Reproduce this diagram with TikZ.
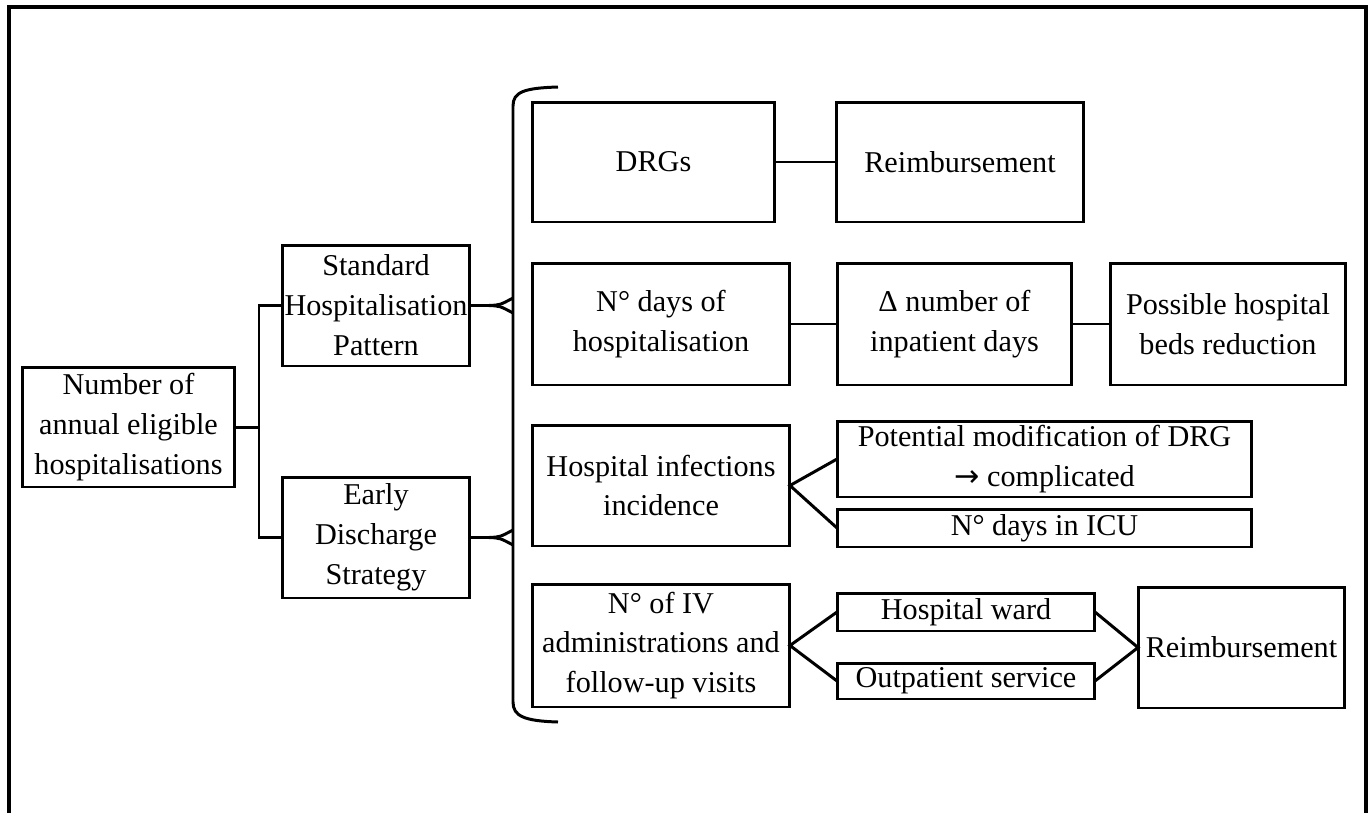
\documentclass[tikz,border=0pt]{standalone}
\usepackage{fontspec}
\setmainfont{Liberation Serif}
\newfontfamily\arrowfont{DejaVu Sans}
\usepackage{tikz}
\usetikzlibrary{calc}

\begin{document}
\begin{tikzpicture}[x=0.02cm, y=-0.02cm,
  blk/.style={draw, line width=1.7pt, align=center, inner sep=0pt, outer sep=0pt,
    font=\fontsize{17.2}{22.7}\selectfont},
  link/.style={line width=1.7pt}]
\useasboundingbox (0,0) rectangle (1370,812);
\draw[line width=1.8pt] (9,830)--(9,7)--(1366,7)--(1366,830);

\node[blk, minimum width=4.26cm, minimum height=2.4cm] (root) at (128.5,427)
  {Number of\\annual eligible\\hospitalisations};
\node[blk, minimum width=3.76cm, minimum height=2.42cm] (stdp) at (376,305.5)
  {Standard\\Hospitalisation\\Pattern};
\node[blk, minimum width=3.76cm, minimum height=2.42cm] (early) at (376,537.5)
  {Early\\Discharge\\Strategy};

\node[blk, minimum width=4.86cm, minimum height=2.4cm] (drg) at (653.5,162) {DRGs};
\node[blk, minimum width=4.96cm, minimum height=2.4cm] (reimbA) at (960,162) {Reimbursement};

\node[blk, minimum width=5.16cm, minimum height=2.44cm] (days) at (661,324)
  {N° days of\\hospitalisation};
\node[blk, minimum width=4.70cm, minimum height=2.44cm] (delta) at (954.5,324)
  {Δ number of\\inpatient days};
\node[blk, minimum width=4.72cm, minimum height=2.44cm] (beds) at (1228,324)
  {Possible hospital\\beds reduction};

\node[blk, minimum width=5.16cm, minimum height=2.42cm] (hii) at (661,485.5)
  {Hospital infections\\incidence};
\node[blk, minimum width=8.30cm, minimum height=1.52cm] (pot) at (1044.5,459)
  {Potential modification of DRG\\{\arrowfont →} complicated};
\node[blk, minimum width=8.30cm, minimum height=0.76cm] (icu) at (1044.5,528)
  {N° days in ICU};

\node[blk, minimum width=5.16cm, minimum height=2.46cm] (iv) at (661,645.5)
  {N° of IV\\administrations and\\follow-up visits};
\node[blk, minimum width=5.16cm, minimum height=0.76cm] (ward) at (966,612)
  {Hospital ward};
\node[blk, minimum width=5.16cm, minimum height=0.72cm] (outp) at (966,681)
  {Outpatient service};
\node[blk, minimum width=4.14cm, minimum height=2.42cm] (reimbB) at (1241.5,647.5)
  {Reimbursement};

\coordinate (split) at (259,427);
\draw[link] (root) -- (split) |- (stdp);
\draw[link] (split) |- (early);

\draw[link] (558,87) .. controls (524,88) and (513,92) .. (513,106)
  -- (513,702) .. controls (513,716) and (524,721) .. (558,722);
\coordinate (tipS) at (489,305.5);
\coordinate (tipE) at (489,537.5);
\draw[link] (stdp) -- (tipS);
\draw[link] (tipS) .. controls (500,305) .. (513,298);
\draw[link] (tipS) .. controls (500,306) .. (513,313);
\draw[link] (early) -- (tipE);
\draw[link] (tipE) .. controls (500,537) .. (513,530);
\draw[link] (tipE) .. controls (500,538) .. (513,545);

\draw[link] (drg) -- (reimbA);
\draw[link] (days) -- (delta) -- (beds);
\draw[link] (pot.west) -- (hii.east) -- (icu.west);
\draw[link] (ward.west) -- (iv.east) -- (outp.west);
\draw[link] (ward.east) -- (reimbB.west) -- (outp.east);
\end{tikzpicture}
\end{document}
